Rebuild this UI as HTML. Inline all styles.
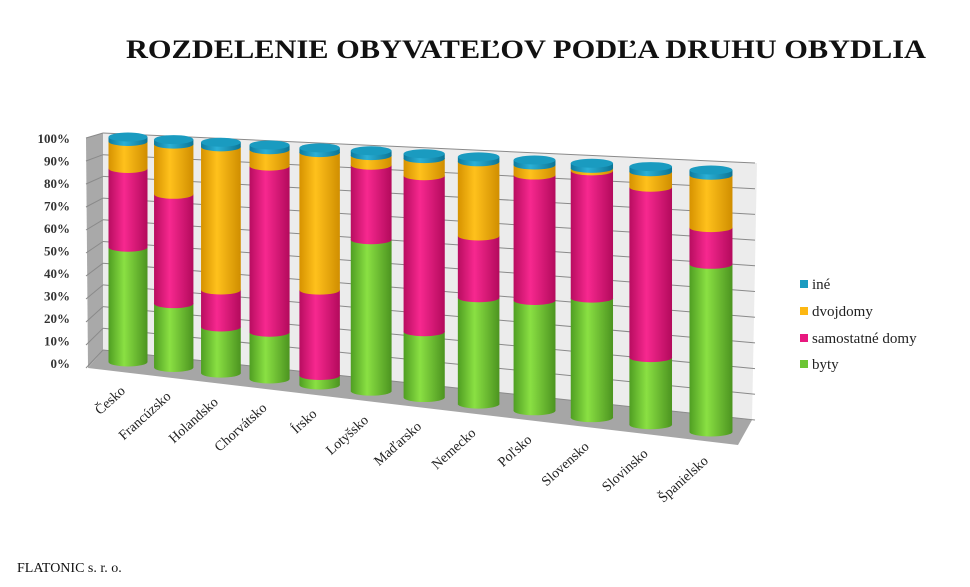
<!DOCTYPE html>
<html><head><meta charset="utf-8"><style>
html,body{margin:0;padding:0;background:#fff;width:970px;height:587px;overflow:hidden}
svg{display:block;font-family:"Liberation Serif",serif}
</style></head><body>
<svg id="c" width="970" height="587">
<defs>
<linearGradient id="gG" x1="0" x2="1"><stop offset="0" stop-color="#4f9e22"/><stop offset="0.4" stop-color="#8ae043"/><stop offset="1" stop-color="#4c9420"/></linearGradient>
<linearGradient id="gM" x1="0" x2="1"><stop offset="0" stop-color="#b80d60"/><stop offset="0.4" stop-color="#f7288f"/><stop offset="1" stop-color="#b30a5c"/></linearGradient>
<linearGradient id="gO" x1="0" x2="1"><stop offset="0" stop-color="#d69200"/><stop offset="0.4" stop-color="#ffc11c"/><stop offset="1" stop-color="#d08e00"/></linearGradient>
<linearGradient id="gC" x1="0" x2="1"><stop offset="0" stop-color="#0d7a9e"/><stop offset="0.4" stop-color="#2bb0d6"/><stop offset="1" stop-color="#0c7494"/></linearGradient>
</defs>
<text x="526" y="58" text-anchor="middle" font-size="26" font-weight="bold" textLength="800" lengthAdjust="spacingAndGlyphs" fill="#111">ROZDELENIE OBYVATEĽOV PODĽA DRUHU OBYDLIA</text>
<polygon points="86,138 103,133 103,350 88,368" fill="#a9a9a9"/>
<polygon points="103,133 757,163 752,420 103,350" fill="#ececec"/>
<polygon points="103,350 752,420 738,445 88,368" fill="#a6a6a6"/>
<g id="grid"></g><g id="ylab"></g><g id="bars"></g><g id="xlab"></g>
<g>
<rect x="800" y="280" width="8" height="8" fill="#1a9bc0"/>
<text x="812" y="289" font-size="15" fill="#222">iné</text>
<rect x="800" y="307" width="8" height="8" fill="#fdb813"/>
<text x="812" y="316" font-size="15" fill="#222">dvojdomy</text>
<rect x="800" y="334" width="8" height="8" fill="#e8187f"/>
<text x="812" y="343" font-size="15" fill="#222">samostatné domy</text>
<rect x="800" y="360" width="8" height="8" fill="#6cc534"/>
<text x="812" y="369" font-size="15" fill="#222">byty</text>
</g>
<text x="17" y="572" font-size="14" fill="#111">FLATONIC s. r. o.</text>
</svg>
<script>
const categories=["Česko","Francúzsko","Holandsko","Chorvátsko","Írsko","Lotyšsko","Maďarsko","Nemecko","Poľsko","Slovensko","Slovinsko","Španielsko"];
const byty=[51,28,20,20,4,63,27,43,44,47,26,64];
const samostatne=[35,48,16,71,36,31,64,25,50,50,66,14];
const dvojdomy=[12,22,62,7,58,4,7,30,4,1,6,20];
const ine=[2,2,2,2,2,2,2,2,2,2,2,2];
const yTicks=["0%","10%","20%","30%","40%","50%","60%","70%","80%","90%","100%"];
const NS="http://www.w3.org/2000/svg";
function mk(t,a,p){const e=document.createElementNS(NS,t);for(const k in a)e.setAttribute(k,a[k]);p.appendChild(e);return e;}
function xC(i){return 128+45*i+0.727*i*i;}
function yBot(x){return 362+(x-128)*0.12;}
function yTop(x){return 137+(x-128)*0.0566;}
function yVal(x,v){const b=yBot(x),t=yTop(x);return b-(b-t)*v/100;}
const grid=document.getElementById('grid');
for(let k=0;k<=10;k++){
 const t=k/10;
 const l=mk('line',{x1:103,y1:350-217*t,x2:755,y2:420-257*t,stroke:'#8a8a8a','stroke-width':1},grid);
 
 
 const lt=mk('line',{x1:86,y1:368-230*t,x2:103,y2:350-217*t,stroke:'#8a8a8a','stroke-width':1},grid);
 
 
}
const yl=document.getElementById('ylab');
yTicks.forEach((s,k)=>{
 const e=mk('text',{x:70,y:368-22.5*k,'text-anchor':'end','font-size':13,'font-weight':'bold',fill:'#333'},yl);
 e.textContent=s;
 
 
});
const bars=document.getElementById('bars'),xl=document.getElementById('xlab');
categories.forEach((c,i)=>{
 const x=xC(i),w=39+4*i/11,ry=4.5;
 const g=mk('g',{},bars);
 
 
 const segs=[[byty[i],'url(#gG)','#5aa82a','byty'],[samostatne[i],'url(#gM)','#c81470','samostatne'],[dvojdomy[i],'url(#gO)','#e0a000','dvojdomy'],[ine[i],'url(#gC)','#1088b0','ine']];
 let cum=0;
 segs.forEach(s=>{
  const y0=yVal(x,cum),y1=yVal(x,cum+s[0]);
  const r=mk('rect',{x:x-w/2,y:y1,width:w,height:Math.max(0,y0-y1),fill:s[1]},g);
  
  
  const el=mk('ellipse',{cx:x,cy:y0,rx:w/2,ry:ry,fill:s[1]},g);
  
  
  cum+=s[0];
 });
 const cap=mk('ellipse',{cx:x,cy:yVal(x,cum),rx:w/2,ry:ry,fill:'#1a9bc0'},g);
 
 
 const xa=x-2, yb=yBot(x)+30;
 const t=mk('text',{x:xa,y:yb,'text-anchor':'end','font-size':14,fill:'#222',transform:`rotate(-42 ${xa} ${yb})`},xl);
 t.textContent=c;
 
 
});
</script>
</body></html>
